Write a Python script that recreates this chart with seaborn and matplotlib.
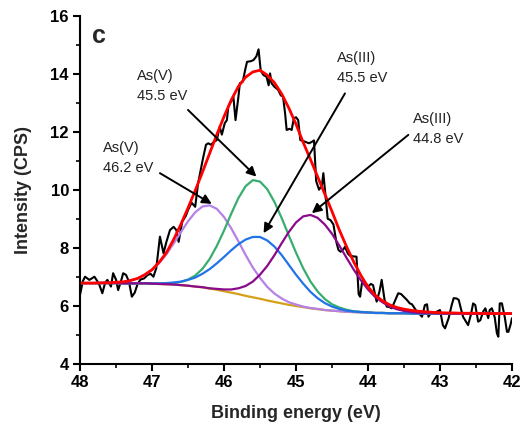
import numpy as np
import pandas as pd
import matplotlib
matplotlib.use("Agg")
import matplotlib.pyplot as plt
import seaborn as sns

# ---------------- data ----------------
# raw spectrum (binding energy, eV ; intensity, CPS)
raw_energy = [48.00, 47.96, 47.93, 47.87, 47.83, 47.80, 47.76, 47.73, 47.69, 47.65,
              47.62, 47.57, 47.54, 47.50, 47.47, 47.43, 47.40, 47.36, 47.32, 47.28,
              47.24, 47.20, 47.16, 47.11, 47.06, 47.02, 46.98, 46.94, 46.89, 46.84,
              46.80, 46.75, 46.70, 46.66, 46.63, 46.58, 46.53, 46.50, 46.45, 46.40,
              46.36, 46.33, 46.29, 46.25, 46.22, 46.18, 46.14, 46.10, 46.06, 46.03,
              45.99, 45.96, 45.94, 45.90, 45.87, 45.84, 45.80, 45.78, 45.74, 45.70,
              45.68, 45.63, 45.59, 45.55, 45.52, 45.49, 45.45, 45.41, 45.38, 45.36,
              45.34, 45.30, 45.25, 45.21, 45.18, 45.15, 45.13, 45.09, 45.06, 45.03,
              45.00, 44.97, 44.94, 44.90, 44.86, 44.82, 44.78, 44.75, 44.72, 44.68,
              44.64, 44.62, 44.59, 44.56, 44.52, 44.48, 44.44, 44.41, 44.38, 44.34,
              44.32, 44.28, 44.25, 44.20, 44.16, 44.13, 44.11, 44.08, 44.04, 44.00,
              43.96, 43.93, 43.88, 43.84, 43.81, 43.77, 43.74, 43.70, 43.67, 43.62,
              43.58, 43.54, 43.50, 43.46, 43.42, 43.39, 43.35, 43.32, 43.28, 43.25,
              43.21, 43.18, 43.16, 43.13, 43.09, 43.04, 43.00, 42.96, 42.93, 42.88,
              42.84, 42.81, 42.77, 42.74, 42.71, 42.68, 42.64, 42.61, 42.57, 42.54,
              42.51, 42.47, 42.44, 42.40, 42.37, 42.33, 42.31, 42.28, 42.24, 42.21,
              42.19, 42.17, 42.14, 42.10, 42.07, 42.05, 42.02, 42.00]
raw_counts = [6.37, 6.85, 7.00, 6.89, 6.95, 7.00, 6.85, 6.71, 6.43, 6.80,
              6.89, 6.66, 7.12, 6.90, 6.54, 6.85, 7.12, 7.06, 6.83, 6.31,
              6.45, 6.75, 6.90, 6.94, 7.06, 7.10, 7.00, 7.30, 8.38, 7.81,
              8.20, 8.61, 8.72, 8.60, 8.20, 8.90, 9.10, 9.30, 9.55, 9.41,
              10.22, 10.60, 11.10, 11.55, 11.60, 11.55, 11.65, 11.71, 12.17, 11.90,
              12.29, 12.40, 12.86, 13.05, 13.21, 12.40, 13.20, 13.67, 13.72, 14.20,
              14.41, 14.43, 14.47, 14.60, 14.84, 14.10, 13.95, 13.90, 13.60, 14.01,
              13.67, 13.55, 13.45, 13.25, 13.21, 12.60, 12.06, 12.10, 12.06, 12.46,
              12.50, 12.40, 11.71, 11.68, 11.64, 11.60, 11.65, 11.70, 10.30, 10.00,
              10.15, 10.57, 9.80, 9.00, 8.95, 8.80, 8.20, 7.92, 7.86, 7.95,
              8.03, 7.80, 7.72, 7.70, 7.69, 6.40, 6.31, 6.85, 6.80, 6.66,
              6.75, 6.71, 6.14, 6.50, 6.89, 6.20, 5.97, 5.95, 5.91, 6.20,
              6.43, 6.40, 6.30, 6.20, 6.08, 6.05, 5.90, 5.79, 5.70, 5.62,
              6.02, 6.05, 5.62, 5.74, 5.74, 5.80, 5.85, 5.33, 5.22, 5.57,
              6.00, 6.26, 6.25, 6.20, 5.90, 5.62, 5.45, 5.33, 5.70, 6.08,
              6.02, 5.45, 5.50, 5.80, 5.91, 5.57, 5.85, 5.91, 5.60, 5.05,
              4.93, 6.08, 6.08, 5.60, 5.10, 5.10, 5.35, 5.57]

# fitted curves, sampled every 0.1 eV from 48.0 to 42.0
fit_energy = [48.0, 47.9, 47.8, 47.7, 47.6, 47.5, 47.4, 47.3, 47.2, 47.1,
              47.0, 46.9, 46.8, 46.7, 46.6, 46.5, 46.4, 46.3, 46.2, 46.1,
              46.0, 45.9, 45.8, 45.7, 45.6, 45.5, 45.4, 45.3, 45.2, 45.1,
              45.0, 44.9, 44.8, 44.7, 44.6, 44.5, 44.4, 44.3, 44.2, 44.1,
              44.0, 43.9, 43.8, 43.7, 43.6, 43.5, 43.4, 43.3, 43.2, 43.1,
              43.0, 42.9, 42.8, 42.7, 42.6, 42.5, 42.4, 42.3, 42.2, 42.1, 42.0]
background = [6.78, 6.78, 6.78, 6.78, 6.78, 6.78, 6.77, 6.77, 6.77, 6.77,
              6.76, 6.75, 6.74, 6.73, 6.71, 6.69, 6.66, 6.63, 6.59, 6.55,
              6.50, 6.45, 6.40, 6.34, 6.29, 6.24, 6.18, 6.13, 6.08, 6.03,
              5.99, 5.95, 5.91, 5.88, 5.85, 5.83, 5.81, 5.79, 5.78, 5.77,
              5.76, 5.75, 5.75, 5.74, 5.74, 5.74, 5.73, 5.73, 5.73, 5.73,
              5.73, 5.73, 5.73, 5.73, 5.72, 5.72, 5.72, 5.72, 5.72, 5.72, 5.72]
as_v_462 = [6.78, 6.78, 6.78, 6.79, 6.79, 6.80, 6.82, 6.86, 6.94, 7.06,
            7.23, 7.47, 7.77, 8.14, 8.53, 8.91, 9.22, 9.42, 9.46, 9.34,
            9.06, 8.67, 8.22, 7.75, 7.32, 6.96, 6.65, 6.42, 6.25, 6.12,
            6.04, 5.97, 5.92, 5.89, 5.85, 5.83, 5.81, 5.79, 5.78, 5.77,
            5.76, 5.75, 5.75, 5.74, 5.74, 5.74, 5.73, 5.73, 5.73, 5.73,
            5.73, 5.73, 5.73, 5.73, 5.72, 5.72, 5.72, 5.72, 5.72, 5.72, 5.72]
as_v_455 = [6.78, 6.78, 6.78, 6.78, 6.78, 6.78, 6.77, 6.77, 6.77, 6.77,
            6.76, 6.76, 6.76, 6.78, 6.82, 6.90, 7.04, 7.27, 7.61, 8.06,
            8.59, 9.17, 9.71, 10.12, 10.33, 10.28, 10.02, 9.58, 9.03, 8.42,
            7.83, 7.29, 6.84, 6.49, 6.23, 6.05, 5.94, 5.86, 5.81, 5.79,
            5.77, 5.75, 5.75, 5.74, 5.74, 5.74, 5.73, 5.73, 5.73, 5.73,
            5.73, 5.73, 5.73, 5.73, 5.72, 5.72, 5.72, 5.72, 5.72, 5.72, 5.72]
as_iii_455 = [6.78, 6.78, 6.78, 6.78, 6.78, 6.78, 6.77, 6.77, 6.77, 6.78,
              6.77, 6.77, 6.78, 6.80, 6.83, 6.89, 6.97, 7.10, 7.26, 7.46,
              7.68, 7.91, 8.12, 8.28, 8.37, 8.37, 8.25, 8.04, 7.75, 7.41,
              7.07, 6.76, 6.48, 6.26, 6.09, 5.97, 5.89, 5.83, 5.80, 5.78,
              5.77, 5.75, 5.75, 5.74, 5.74, 5.74, 5.73, 5.73, 5.73, 5.73,
              5.73, 5.73, 5.73, 5.73, 5.72, 5.72, 5.72, 5.72, 5.72, 5.72, 5.72]
as_iii_448 = [6.78, 6.78, 6.78, 6.78, 6.78, 6.78, 6.77, 6.77, 6.77, 6.77,
              6.76, 6.75, 6.74, 6.73, 6.71, 6.69, 6.66, 6.64, 6.60, 6.58,
              6.56, 6.56, 6.60, 6.68, 6.83, 7.07, 7.37, 7.74, 8.15, 8.54,
              8.87, 9.08, 9.13, 9.03, 8.80, 8.48, 8.08, 7.66, 7.25, 6.88,
              6.56, 6.30, 6.12, 5.97, 5.88, 5.82, 5.78, 5.75, 5.74, 5.74,
              5.73, 5.73, 5.73, 5.73, 5.72, 5.72, 5.72, 5.72, 5.72, 5.72, 5.72]
envelope = [6.78, 6.78, 6.78, 6.79, 6.79, 6.81, 6.82, 6.87, 6.94, 7.07,
            7.24, 7.50, 7.83, 8.28, 8.80, 9.37, 9.97, 10.60, 11.25, 11.90,
            12.52, 13.09, 13.56, 13.88, 14.06, 14.12, 13.95, 13.69, 13.31, 12.82,
            12.26, 11.63, 11.05, 10.45, 9.85, 9.25, 8.62, 8.05, 7.52, 7.05,
            6.65, 6.36, 6.17, 6.03, 5.94, 5.88, 5.84, 5.81, 5.79, 5.77,
            5.76, 5.75, 5.75, 5.74, 5.74, 5.74, 5.73, 5.73, 5.73, 5.73, 5.73]

# annotations: label, text anchor (left edge x, middle y), arrow tail, arrow tip
ann_labels = ["As(V)\n45.5 eV", "As(V)\n46.2 eV", "As(III)\n45.5 eV", "As(III)\n44.8 eV"]
ann_text_xy = [(47.21, 13.58), (47.68, 11.08), (44.43, 14.20), (43.37, 12.09)]
ann_tail_xy = [(46.50, 12.75), (46.89, 10.57), (44.32, 13.32), (43.44, 11.89)]
ann_tip_xy = [(45.55, 10.45), (46.17, 9.51), (45.45, 8.50), (44.78, 9.19)]

x_ticks = [48, 47, 46, 45, 44, 43, 42]
y_ticks = [4, 6, 8, 10, 12, 14, 16]

# ---------------- figure ----------------
sns.set_style("ticks")
plt.rcParams["font.family"] = ["Liberation Sans", "DejaVu Sans"]

fig = plt.figure(figsize=(5.25, 4.29), dpi=100)
ax = fig.add_axes([80 / 525, 1 - 363.7 / 429, 432 / 525, 348 / 429])

raw_df = pd.DataFrame({"energy": raw_energy, "counts": raw_counts})
fit_df = pd.DataFrame({"energy": fit_energy, "bg": background, "v462": as_v_462,
                       "v455": as_v_455, "iii455": as_iii_455, "iii448": as_iii_448,
                       "env": envelope})

sns.lineplot(data=raw_df, x="energy", y="counts", ax=ax, color="black", lw=1.5,
             sort=False, estimator=None)
for col, colour in [("bg", "#D4A017"), ("v462", "#B681E6"), ("v455", "#37AE70"),
                    ("iii455", "#2173E8"), ("iii448", "#8B0A8B")]:
    sns.lineplot(data=fit_df, x="energy", y=col, ax=ax, color=colour, lw=1.6,
                 sort=False, estimator=None)
sns.lineplot(data=fit_df, x="energy", y="env", ax=ax, color="#FF0000", lw=2.0,
             sort=False, estimator=None)

for lab, txy, tail, tip in zip(ann_labels, ann_text_xy, ann_tail_xy, ann_tip_xy):
    ax.text(txy[0], txy[1], lab, fontsize=10.5, ha="left", va="center",
            linespacing=1.55, color="#222222")
    ax.annotate("", xy=tip, xytext=tail,
                arrowprops=dict(arrowstyle="-|>", color="black", lw=1.4,
                                mutation_scale=14, shrinkA=0, shrinkB=0))

ax.text(0.028, 0.975, "c", transform=ax.transAxes, fontsize=18, fontweight="bold",
        ha="left", va="top")

ax.set_xlim(48, 42)
ax.set_ylim(4, 16)
ax.set_xticks(x_ticks)
ax.set_yticks(y_ticks)
ax.set_xticklabels([str(v) for v in x_ticks], fontweight="bold", fontsize=12)
ax.set_yticklabels([str(v) for v in y_ticks], fontweight="bold", fontsize=12)
ax.set_xticks([47.5, 46.5, 45.5, 44.5, 43.5, 42.5], minor=True)
ax.set_yticks([5, 7, 9, 11, 13, 15], minor=True)
ax.tick_params(which="major", direction="out", length=5, width=1.5, pad=3, colors="black")
ax.tick_params(which="minor", direction="out", length=3, width=1.2, colors="black")
ax.set_xlabel("Binding energy (eV)", fontsize=13, fontweight="bold", labelpad=11)
ax.set_ylabel("Intensity (CPS)", fontsize=13, fontweight="bold", labelpad=13)
for side in ["left", "bottom"]:
    ax.spines[side].set_linewidth(1.5)
    ax.spines[side].set_color("black")
ax.spines["top"].set_visible(False)
ax.spines["right"].set_visible(False)

fig.savefig("out.png", dpi=100)
